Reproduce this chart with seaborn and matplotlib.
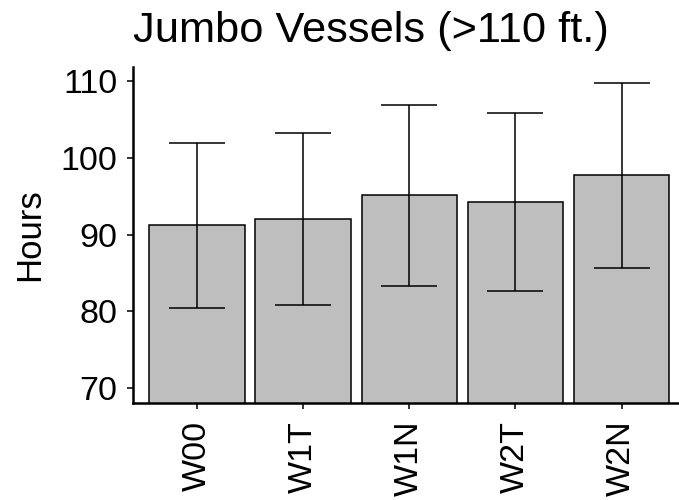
import numpy as np
import pandas as pd
import matplotlib
matplotlib.use("Agg")
import matplotlib.pyplot as plt
import seaborn as sns

# Mean hours per scenario with lower/upper interval bounds
scenarios = ["W00", "W1T", "W1N", "W2T", "W2N"]
mean_hours = [91.25, 92.0, 95.1, 94.3, 97.75]
lower_hours = [80.45, 80.8, 83.3, 82.7, 85.7]
upper_hours = [101.95, 103.2, 106.85, 105.85, 109.8]
y_ticks = [70, 80, 90, 100, 110]

df = pd.DataFrame({"scenario": scenarios, "hours": mean_hours})

sns.set_style("ticks")
plt.rcParams["font.family"] = ["Liberation Sans", "DejaVu Sans"]
plt.rcParams["text.color"] = "black"

fig = plt.figure(figsize=(6.79, 5.0), dpi=100)
ax = fig.add_axes([133.3 / 679, 97.3 / 500, 552.0 / 679, 335.4 / 500])

sns.barplot(data=df, x="scenario", y="hours", order=scenarios,
            color="#BEBEBE", saturation=1, width=0.9,
            edgecolor="black", linewidth=1.1, errorbar=None, ax=ax)

means = np.array(mean_hours)
yerr = [means - np.array(lower_hours), np.array(upper_hours) - means]
ax.errorbar(np.arange(len(scenarios)), means, yerr=yerr, fmt="none",
            ecolor="black", elinewidth=1.1, capsize=20, capthick=1.1, zorder=5)

ax.set_ylim(68.1, 111.8)
ax.set_xlim(-0.6, len(scenarios) - 0.4)
ax.set_yticks(y_ticks)
ax.set_yticklabels([str(t) for t in y_ticks])

sns.despine(ax=ax)
for side in ("left", "bottom"):
    ax.spines[side].set_linewidth(1.8)
    ax.spines[side].set_color("black")

ax.tick_params(axis="both", length=4.5, width=1.4, color="#333333",
               labelsize=24.5, labelcolor="black")
ax.tick_params(axis="y", pad=7)
ax.tick_params(axis="x", labelrotation=90, pad=8.5)

ax.set_xlabel("")
ax.set_ylabel("Hours", fontsize=25, color="black")
ax.yaxis.set_label_coords(-0.158, 0.5)
ax.set_title("Jumbo Vessels (>110 ft.)", fontsize=31.2, loc="left", pad=18,
             color="black")

fig.savefig("out.png", dpi=100)
